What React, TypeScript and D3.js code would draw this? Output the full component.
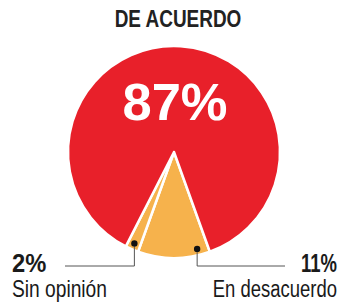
import React from "react";
import * as d3 from "d3";

// slices in clockwise order starting at the lower right edge of the orange wedge
const labels = ["En desacuerdo", "Sin opinión", "De acuerdo"];
const values = [11, 2, 87];
const colors = ["#f6b24c", "#f6b24c", "#e8202a"];
const dotFraction = [0.16, 0.5, 0.5];

const W = 342;
const H = 303;
const cx = 174;
const cy = 152;
const radius = 106;
const font = "'Liberation Sans', Arial, sans-serif";

// horizontally squeezed text, to mimic the condensed newspaper face
const Narrow = (p: { x: number; y: number; sx: number; anchor?: string; size: number; bold?: boolean; fill?: string; children: React.ReactNode }) => (
  <text
    transform={`translate(${p.x},${p.y}) scale(${p.sx},1)`}
    textAnchor={p.anchor || "start"}
    fontFamily={font}
    fontWeight={p.bold ? "bold" : "normal"}
    fontSize={p.size}
    fill={p.fill || "#1a1a1a"}
  >
    {p.children}
  </text>
);

export default function App() {
  const pie = d3
    .pie<number>()
    .sort(null)
    .value((d) => d)
    .startAngle(Math.PI - 0.345)
    .endAngle(Math.PI - 0.345 + 2 * Math.PI);
  const arcs = pie(values);
  const arc = d3.arc<d3.PieArcDatum<number>>().innerRadius(0).outerRadius(radius);

  const dotAt = (i: number) => {
    const a = arcs[i];
    const ang = a.startAngle + (a.endAngle - a.startAngle) * dotFraction[i];
    const r = radius * 0.94;
    return [cx + r * Math.sin(ang), cy - r * Math.cos(ang)];
  };
  const lineY = 266;
  const dotRight = dotAt(0);
  const dotLeft = dotAt(1);

  return (
    <svg width={W} height={H} style={{ position: "absolute", left: 0, top: 0, background: "#fff" }}>
      <Narrow x={178} y={27} sx={0.79} anchor="middle" size={24} bold fill="#222">DE ACUERDO</Narrow>
      <g transform={`translate(${cx},${cy})`}>
        {arcs.map((a, i) => (
          <path key={labels[i]} d={arc(a) || ""} fill={colors[i]} stroke="#fff" strokeWidth={2.5} strokeLinejoin="round" />
        ))}
      </g>
      <Narrow x={175} y={120} sx={1.03} anchor="middle" size={51} bold fill="#fff">{values[2]}%</Narrow>
      <polyline points={`${dotLeft[0]},${dotLeft[1]} ${dotLeft[0]},${lineY} 65,${lineY}`} fill="none" stroke="#555" strokeWidth={1} />
      <polyline points={`${dotRight[0]},${dotRight[1]} ${dotRight[0]},${lineY} 285,${lineY}`} fill="none" stroke="#555" strokeWidth={1} />
      <circle cx={dotLeft[0]} cy={dotLeft[1]} r={3.2} fill="#111" />
      <circle cx={dotRight[0]} cy={dotRight[1]} r={3.2} fill="#111" />
      <Narrow x={12} y={272} sx={0.95} size={25} bold>{values[1]}%</Narrow>
      <Narrow x={12} y={297} sx={0.8} size={24}>{labels[1]}</Narrow>
      <Narrow x={337} y={272} sx={0.74} anchor="end" size={25} bold>{values[0]}%</Narrow>
      <Narrow x={337} y={297} sx={0.77} anchor="end" size={24}>{labels[0]}</Narrow>
    </svg>
  );
}
